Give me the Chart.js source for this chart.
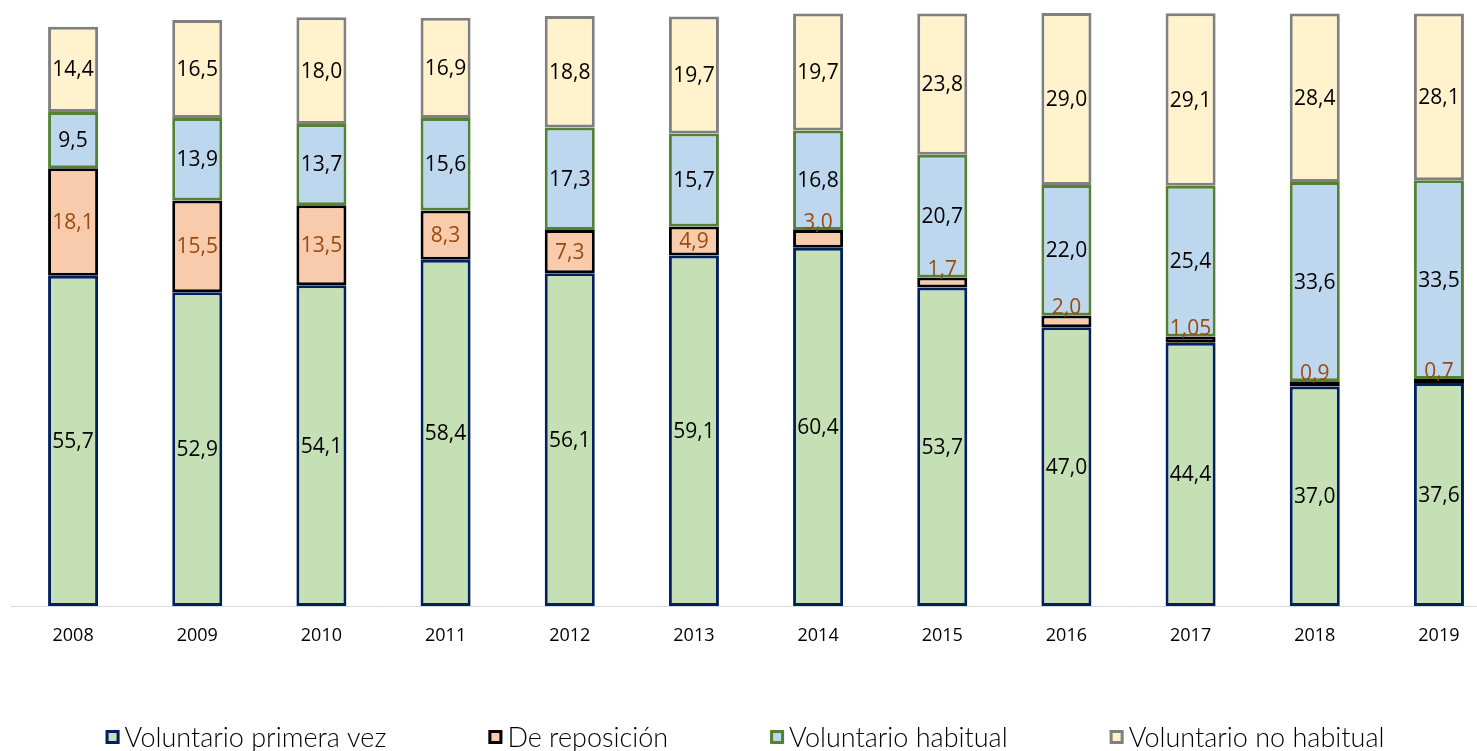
<!DOCTYPE html>
<html>
<head>
<meta charset="utf-8">
<script src="https://cdn.jsdelivr.net/npm/chart.js@4/dist/chart.umd.min.js"></script>
<style>
  html, body { margin: 0; padding: 0; background: #fff; overflow: hidden; width: 1477px; height: 751px; }
  canvas { display: block; }
</style>
</head>
<body>
<canvas id="c" width="1502" height="751"></canvas>
<script>
const years = ['2008','2009','2010','2011','2012','2013','2014','2015','2016','2017','2018','2019'];
const primeraVez = [55.7, 52.9, 54.1, 58.4, 56.1, 59.1, 60.4, 53.7, 47.0, 44.4, 37.0, 37.6];
const reposicion = [18.1, 15.5, 13.5, 8.3, 7.3, 4.9, 3.0, 1.7, 2.0, 1.05, 0.9, 0.7];
const habitual = [9.5, 13.9, 13.7, 15.6, 17.3, 15.7, 16.8, 20.7, 22.0, 25.4, 33.6, 33.5];
const noHabitual = [14.4, 16.5, 18.0, 16.9, 18.8, 19.7, 19.7, 23.8, 29.0, 29.1, 28.4, 28.1];
const seriesNames = ['Voluntario primera vez', 'De reposición', 'Voluntario habitual', 'Voluntario no habitual'];

function fmt(v) {
  const twoDec = Math.abs(Math.round(v * 10) - v * 10) > 1e-6;
  return v.toFixed(twoDec ? 2 : 1).replace('.', ',');
}

const fills = ['#C5E0B4', '#F8CBAD', '#BDD7EE', '#FFF2CC'];
const borders = ['#002060', '#000000', '#548235', '#808080'];
const labelColors = ['#000000', '#9A4A0E', '#000000', '#000000'];
const seriesData = [primeraVez, reposicion, habitual, noHabitual];

const datasets = seriesData.map((d, i) => ({
  label: seriesNames[i],
  data: d,
  backgroundColor: fills[i],
  borderColor: borders[i],
  borderWidth: 3,
  borderSkipped: false,
  barPercentage: 0.403,
  categoryPercentage: 1.0
}));

const labelPlugin = {
  id: 'valueLabels',
  afterDatasetsDraw(chart) {
    const ctx = chart.ctx;
    ctx.save();
    ctx.font = '21px "Open Sans"';
    ctx.textAlign = 'center';
    chart.data.datasets.forEach((ds, di) => {
      const meta = chart.getDatasetMeta(di);
      meta.data.forEach((el, i) => {
        const v = ds.data[i];
        ctx.fillStyle = labelColors[di];
        if (di === 1 && v < 4) {
          ctx.textBaseline = 'alphabetic';
          ctx.fillText(fmt(v), el.x, el.y - 1);
        } else {
          ctx.textBaseline = 'middle';
          ctx.fillText(fmt(v), el.x, (el.y + el.base) / 2 + 1);
        }
      });
    });
    ctx.restore();
  }
};

const legendPlugin = {
  id: 'customLegend',
  afterDraw(chart) {
    const ctx = chart.ctx;
    ctx.save();
    ctx.font = '300 27px Lato';
    const box = 14, gapText = 5, spacing = 102;
    const widths = chart.data.datasets.map(ds => box + gapText + ctx.measureText(ds.label).width);
    const total = widths.reduce((a, b) => a + b, 0) + spacing * (widths.length - 1);
    let x = 745 - total / 2;
    const cy = 737;
    chart.data.datasets.forEach((ds, i) => {
      ctx.fillStyle = ds.backgroundColor;
      ctx.strokeStyle = ds.borderColor;
      ctx.lineWidth = 3;
      ctx.fillRect(x, cy - box / 2, box, box);
      ctx.strokeRect(x + 1.5, cy - box / 2 + 1.5, box - 3, box - 3);
      ctx.fillStyle = '#000000';
      ctx.textAlign = 'left';
      ctx.textBaseline = 'middle';
      ctx.fillText(ds.label, x + box + gapText, cy + 1);
      x += widths[i] + spacing;
    });
    ctx.restore();
  }
};

new Chart(document.getElementById('c'), {
  type: 'bar',
  data: { labels: years, datasets },
  options: {
    responsive: false,
    animation: false,
    devicePixelRatio: 1,
    layout: { padding: { left: 11, right: 1, top: 13, bottom: 0 } },
    plugins: { legend: { display: false }, tooltip: { enabled: false } },
    scales: {
      x: {
        stacked: true,
        grid: { display: false, drawTicks: false },
        border: { display: true, color: '#D9D9D9', width: 1 },
        ticks: { font: { family: '"Open Sans"', size: 18 }, color: '#000', padding: 19, maxRotation: 0 },
        afterFit(scale) { scale.height = 145; }
      },
      y: {
        stacked: true,
        display: false,
        min: 0,
        max: 100
      }
    }
  },
  plugins: [labelPlugin, legendPlugin]
});
</script>
</body>
</html>
